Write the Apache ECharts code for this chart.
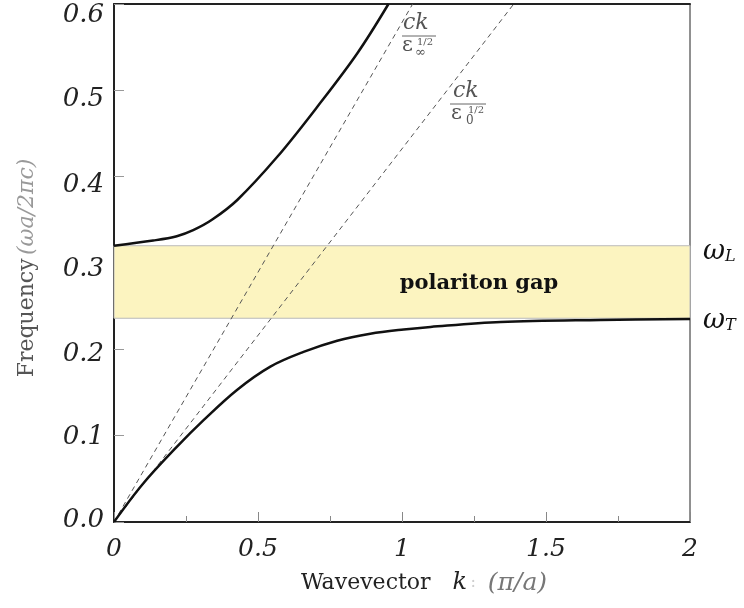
<!DOCTYPE html>
<html>
<head>
<meta charset="utf-8">
<script src="https://cdn.jsdelivr.net/npm/echarts@6/dist/echarts.min.js"></script>
<style>
  html, body { margin: 0; padding: 0; background: #fff; }
  #chart { width: 744px; height: 608px; }
</style>
</head>
<body>
<div id="chart"></div>
<script>
// values (k in pi/a, frequency in wa/2pic)
var upperBranch = [[0, 0.320], [0.136, 0.326], [0.218, 0.331], [0.275, 0.338], [0.34, 0.350], [0.428, 0.373], [0.567, 0.423], [0.706, 0.481], [0.845, 0.543], [0.953, 0.600]];
var lowerBranch = [[0, 0], [0.10, 0.044], [0.218, 0.087], [0.311, 0.118], [0.427, 0.153], [0.543, 0.180], [0.658, 0.197], [0.775, 0.210], [0.890, 0.218], [1.006, 0.223], [1.099, 0.226], [1.343, 0.2317], [1.69, 0.234], [2.0, 0.235]];
var lightLineInf = [[0, 0], [1.037, 0.6]];
var lightLine0 = [[0, 0], [1.388, 0.6]];
var omegaT = 0.236;
var omegaL = 0.320;
var xTicks = [0, 0.5, 1, 1.5, 2];
var yTicks = [0, 0.1, 0.2, 0.3, 0.4, 0.5, 0.6];

var serif = 'DejaVu Serif';
var chart = echarts.init(document.getElementById('chart'));

// ordinary text bits for the fraction labels
function txt(x, y, s, font) {
    return { type: 'text', left: x, top: y, style: { text: s, font: font, fill: '#555' } };
}

// y labels sit a little lower than their ticks in the scan, more so near the top
var yLabelRich = {};
var yPad = [[0, 4], [4, 0], [10, 0], [12, 0], [18, 0], [18, 0], [22, 0]];
yPad.forEach(function (p, i) {
    yLabelRich['t' + i] = { fontFamily: serif, fontStyle: 'italic', fontSize: 26, color: '#222', padding: [p[0], 0, p[1], 0] };
});

var option = {
    animation: false,
    grid: { left: 114, right: 54, top: 4, bottom: 86, outerBoundsMode: 'none', show: true, borderColor: '#222', borderWidth: 1 },
    xAxis: [{
        type: 'value', min: xTicks[0], max: xTicks[xTicks.length - 1], interval: 0.5,
        axisLine: { lineStyle: { color: '#222', width: 2 } },
        axisTick: { inside: true, length: 10, lineStyle: { color: '#888' } },
        minorTick: { show: true, splitNumber: 2, length: 6, lineStyle: { color: '#888' } },
        splitLine: { show: false },
        axisLabel: { fontFamily: serif, fontStyle: 'italic', fontSize: 25, color: '#222', margin: 15 }
    }, {
        type: 'value', position: 'top', min: 0, max: 2,
        axisLine: { lineStyle: { color: '#222', width: 2 } },
        axisTick: { show: false }, axisLabel: { show: false }, splitLine: { show: false }
    }],
    yAxis: {
        type: 'value', min: yTicks[0], max: yTicks[yTicks.length - 1], interval: 0.1,
        axisLine: { lineStyle: { color: '#222', width: 2 } },
        axisTick: { inside: true, length: 10, lineStyle: { color: '#999' } },
        splitLine: { show: false },
        axisLabel: {
            margin: 10,
            formatter: function (v) { return '{t' + Math.round(v * 10) + '|' + v.toFixed(1) + '}'; },
            rich: yLabelRich
        }
    },
    series: [{
        type: 'line', data: lightLineInf, symbol: 'none', z: 3,
        lineStyle: { color: '#555', width: 1, type: [5, 4] }
    }, {
        type: 'line', data: lightLine0, symbol: 'none', z: 3,
        lineStyle: { color: '#555', width: 1, type: [5, 4] }
    }, {
        type: 'line', data: upperBranch, symbol: 'none', smooth: 0.35, z: 4,
        lineStyle: { color: '#111', width: 2.5 }
    }, {
        type: 'line', data: lowerBranch, symbol: 'none', smooth: 0.35, z: 4,
        lineStyle: { color: '#111', width: 2.5 },
        markArea: {
            silent: true,
            itemStyle: { color: '#fcf4c0', borderColor: '#bbb', borderWidth: 1 },
            label: {
                show: true, position: 'inside', offset: [77, 2],
                formatter: 'polariton gap',
                fontFamily: serif, fontWeight: 'bold', fontSize: 21, color: '#111'
            },
            data: [[{ yAxis: omegaT, xAxis: 0 }, { yAxis: omegaL, xAxis: 2 }]]
        }
    }],
    graphic: [
        // ck / eps_inf^(1/2)
        txt(403, 12, 'ck', 'italic 22px "DejaVu Serif"'),
        { type: 'line', shape: { x1: 402, y1: 36, x2: 436, y2: 36 }, style: { stroke: '#666', lineWidth: 1 } },
        txt(402, 35, 'ε', '21px "DejaVu Serif"'),
        txt(417, 37, '1/2', '10px "DejaVu Serif"'),
        txt(415, 46, '∞', '13px "DejaVu Serif"'),
        // ck / eps_0^(1/2)
        txt(453, 80, 'ck', 'italic 22px "DejaVu Serif"'),
        { type: 'line', shape: { x1: 450, y1: 104, x2: 486, y2: 104 }, style: { stroke: '#666', lineWidth: 1 } },
        txt(451, 103, 'ε', '21px "DejaVu Serif"'),
        txt(468, 105, '1/2', '10px "DejaVu Serif"'),
        txt(466, 115, '0', '12px "DejaVu Serif"'),
        // omega_L, omega_T
        { type: 'text', left: 703, top: 238, style: { text: '{w|ω}{s|L}', rich: {
            w: { fontFamily: serif, fontStyle: 'italic', fontSize: 27, fill: '#111', verticalAlign: 'bottom' },
            s: { fontFamily: serif, fontStyle: 'italic', fontSize: 16, fill: '#111', verticalAlign: 'bottom', padding: [14, 0, 0, 0] } } } },
        { type: 'text', left: 703, top: 307, style: { text: '{w|ω}{s|T}', rich: {
            w: { fontFamily: serif, fontStyle: 'italic', fontSize: 27, fill: '#111', verticalAlign: 'bottom' },
            s: { fontFamily: serif, fontStyle: 'italic', fontSize: 16, fill: '#111', verticalAlign: 'bottom', padding: [14, 0, 0, 0] } } } },
        // axis names
        { type: 'text', x: 27, y: 268, rotation: Math.PI / 2, style: {
            text: '{a|Frequency} {b|(ωa/2πc)}', align: 'center', verticalAlign: 'middle',
            rich: {
                a: { fontFamily: serif, fontSize: 22, fill: '#555' },
                b: { fontFamily: serif, fontStyle: 'italic', fontSize: 22, fill: '#999' }
            } } },
        { type: 'text', x: 424, y: 583, style: {
            text: '{a|Wavevector}{k|k} {c|:}{b|(π/a)}', align: 'center', verticalAlign: 'middle',
            rich: {
                a: { fontFamily: serif, fontSize: 22, fill: '#222' },
                k: { fontFamily: serif, fontStyle: 'italic', fontSize: 24, fill: '#222', padding: [0, 0, 0, 22] },
                c: { fontFamily: serif, fontSize: 16, fill: '#ccc' },
                b: { fontFamily: serif, fontStyle: 'italic', fontSize: 25, fill: '#777', padding: [0, 0, 0, 12] }
            } } }
    ]
};
chart.setOption(option);
</script>
</body>
</html>
